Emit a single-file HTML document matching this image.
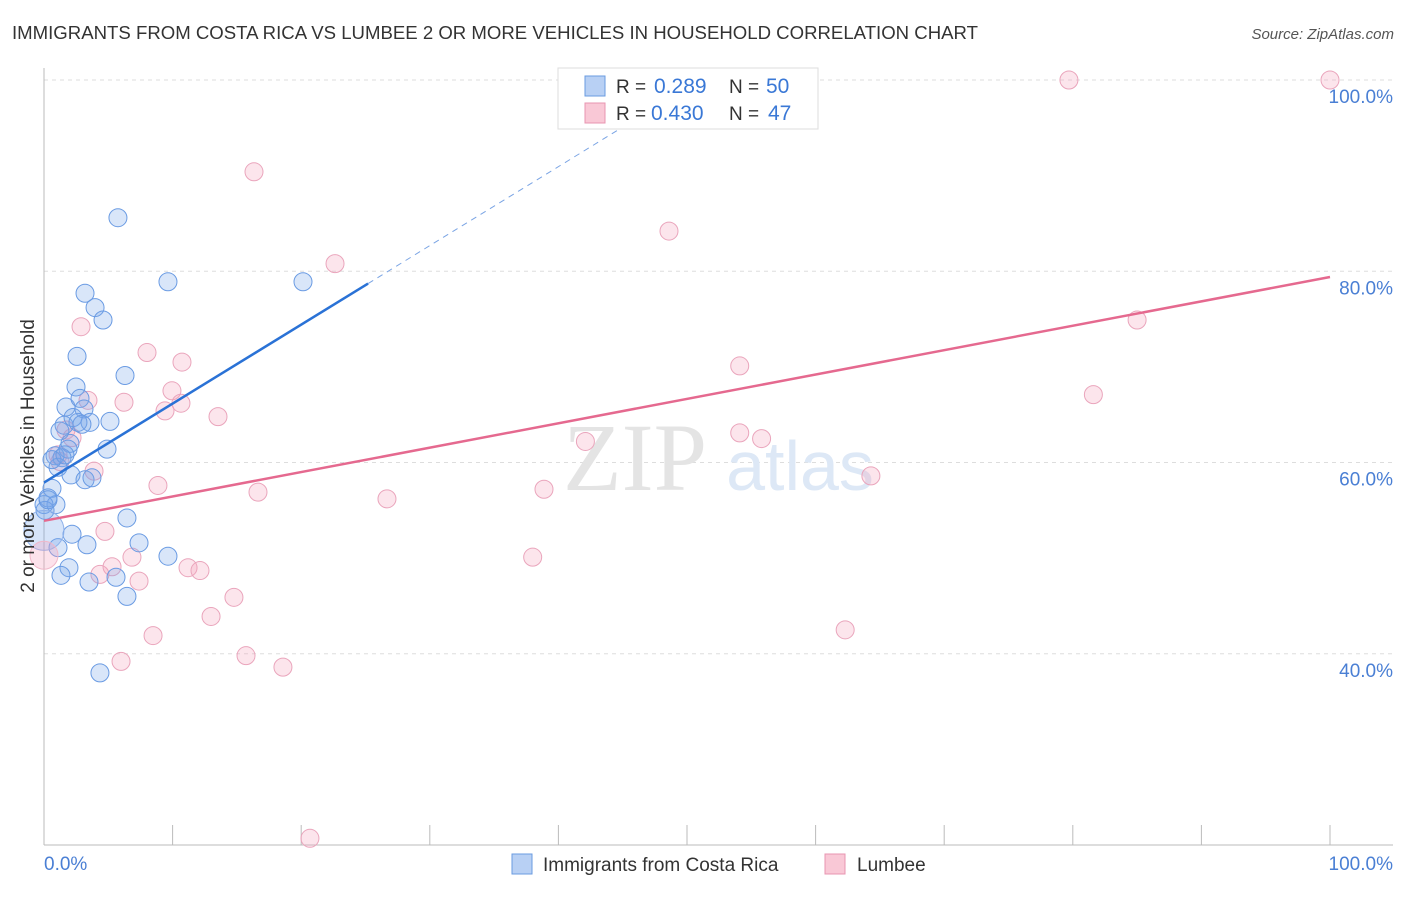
<!DOCTYPE html>
<html><head><meta charset="utf-8"><style>
body{margin:0;background:#fff;font-family:"Liberation Sans",sans-serif;}
</style></head><body>
<svg id="c" width="1406" height="892" viewBox="0 0 1406 892" xmlns="http://www.w3.org/2000/svg">
<text x="12" y="39" font-size="18.6" fill="#333">IMMIGRANTS FROM COSTA RICA VS LUMBEE 2 OR MORE VEHICLES IN HOUSEHOLD CORRELATION CHART</text>
<text x="1394" y="39" font-size="15" fill="#555" font-style="italic" text-anchor="end">Source: ZipAtlas.com</text>
<g id="grid"></g>
<text x="635" y="490" font-size="96" fill="#e4e4e4" font-family="Liberation Serif,serif" text-anchor="middle">ZIP</text>
<text x="800" y="490" font-size="70" fill="#dde8f6" text-anchor="middle">atlas</text>
<line x1="44" y1="68" x2="44" y2="845" stroke="#bbb"/>
<line x1="44" y1="845" x2="1393" y2="845" stroke="#bbb"/>
<g id="xt"></g>
<g id="pts"></g>
<g id="trend"></g>
<g id="yl"></g>
<text x="44" y="870" font-size="19" fill="#4a7fd4">0.0%</text>
<text x="1393" y="870" font-size="19" fill="#4a7fd4" text-anchor="end">100.0%</text>
<text transform="translate(34,456) rotate(-90)" font-size="19" fill="#333" text-anchor="middle">2 or more Vehicles in Household</text>
<g>
<rect x="558" y="68" width="260" height="61" fill="#fff" stroke="#ddd"/>
<rect x="585" y="76" width="20" height="20" fill="#b8d0f4" stroke="#6a9be0"/>
<rect x="585" y="103" width="20" height="20" fill="#f9c8d6" stroke="#e895b0"/>
<text x="616" y="93" font-size="19" fill="#333">R =</text><text x="654" y="93" font-size="21" fill="#3a78d6">0.289</text>
<text x="729" y="93" font-size="19" fill="#333">N =</text><text x="766" y="93" font-size="21" fill="#3a78d6">50</text>
<text x="616" y="120" font-size="19" fill="#333">R =</text><text x="651" y="120" font-size="21" fill="#3a78d6">0.430</text>
<text x="729" y="120" font-size="19" fill="#333">N =</text><text x="768" y="120" font-size="21" fill="#3a78d6">47</text>
</g>
<g>
<rect x="512" y="854" width="20" height="20" fill="#b8d0f4" stroke="#6a9be0"/>
<text x="543" y="871" font-size="19" fill="#333">Immigrants from Costa Rica</text>
<rect x="825" y="854" width="20" height="20" fill="#f9c8d6" stroke="#e895b0"/>
<text x="857" y="871" font-size="19" fill="#333">Lumbee</text>
</g>
</svg>
<script>
const blueX=[5.75,9.64,20.14,3.19,3.97,4.59,2.57,6.30,2.49,1.71,2.80,3.11,5.13,1.56,3.58,2.64,2.26,1.24,2.02,4.90,1.87,0.86,1.40,1.09,2.10,3.19,3.73,0.62,0.31,0.93,0,0.08,6.45,2.18,3.34,7.39,9.64,1.09,1.94,1.32,3.50,5.60,6.45,4.35,0.62,2.95,0.31,1.63];
const blueY=[85.6,78.9,78.9,77.7,76.2,74.9,71.1,69.1,67.9,65.8,66.7,65.6,64.3,63.9,64.2,64.2,64.7,63.3,62.0,61.4,61.4,60.7,60.5,59.5,58.7,58.2,58.4,57.3,56.3,55.6,55.6,55.0,54.2,52.5,51.4,51.6,50.2,51.1,49.0,48.2,47.5,48.0,46.0,38.0,60.3,64.0,56.1,60.8];
const pinkX=[79.7,100,16.33,48.6,22.63,2.88,8.01,10.73,54.1,85.0,81.6,9.95,6.22,3.42,10.65,9.41,13.53,54.1,55.8,42.1,2.18,1.09,3.89,1.71,8.86,16.64,26.67,38.88,64.3,4.74,6.84,38.0,11.2,12.13,7.39,4.35,5.29,14.77,12.99,8.48,62.3,15.71,5.99,18.58,20.68,1.24];
const pinkY=[100,100,90.4,84.2,80.8,74.2,71.5,70.5,70.1,74.9,67.1,67.5,66.3,66.5,66.2,65.4,64.8,63.1,62.5,62.2,62.6,60.8,59.1,63.4,57.6,56.9,56.2,57.2,58.6,52.8,50.1,50.1,49.0,48.7,47.6,48.3,49.1,45.9,43.9,41.9,42.5,39.8,39.2,38.6,20.7,60.1];
const bigBlue=[0,52.9], bigPink=[0,50.3];
const blueTrend=[57.9,0.826], pinkTrend=[53.9,0.255];
const yTicks=[40,60,80,100];
const yTickLabels=["40.0%","60.0%","80.0%","100.0%"];
const xTicks=[0,10,20,30,40,50,60,70,80,90,100];
const sx=v=>44+v*12.86, sy=v=>845-(v-20)*9.5625;
const NS="http://www.w3.org/2000/svg";
function mk(t,a,p){const e=document.createElementNS(NS,t);for(const k in a)e.setAttribute(k,a[k]);p.appendChild(e);return e;}
const grid=document.getElementById('grid'),yl=document.getElementById('yl'),xt=document.getElementById('xt'),pts=document.getElementById('pts'),tr=document.getElementById('trend');
yTicks.forEach((v,i)=>{const l=mk('line',{x1:44,x2:1393,y1:sy(v),y2:sy(v),stroke:'#ddd','stroke-dasharray':'4,4'},grid);


const t=mk('text',{x:1393,y:sy(v)+23,'font-size':19,fill:'#4a7fd4','text-anchor':'end'},yl);t.textContent=yTickLabels[i];

});
xTicks.forEach(v=>{const l=mk('line',{x1:sx(v),x2:sx(v),y1:825,y2:845,stroke:'#bbb'},xt);

});
function dot(x,y,r,f,s){const c=mk('circle',{cx:sx(x),cy:sy(y),r:r,fill:f,stroke:s,'stroke-width':1},pts);return c;}
pinkX.forEach((x,i)=>{const c=dot(x,pinkY[i],9,'rgba(244,160,188,0.28)','#eaa5bc');

});
blueX.forEach((x,i)=>{const c=dot(x,blueY[i],9,'rgba(120,165,235,0.28)','#6a9be3');

});
let c1=dot(bigBlue[0],bigBlue[1],20,'rgba(120,165,235,0.3)','#8fb2ea');


let c2=dot(bigPink[0],bigPink[1],14,'rgba(244,160,188,0.3)','#f0b8ca');


const bl=x=>blueTrend[0]+blueTrend[1]*x, pl=x=>pinkTrend[0]+pinkTrend[1]*x;
let a=mk('line',{x1:sx(0),y1:sy(bl(0)),x2:sx(25.2),y2:sy(bl(25.2)),stroke:'#2a72d6','stroke-width':2.5},tr);


let b=mk('line',{x1:sx(25.2),y1:sy(bl(25.2)),x2:sx(45.5),y2:sy(bl(45.5)),stroke:'#7aa4e4','stroke-width':1,'stroke-dasharray':'6,5'},tr);


let p=mk('line',{x1:sx(0),y1:sy(pl(0)),x2:sx(100),y2:sy(pl(100)),stroke:'#e5698f','stroke-width':2.5},tr);


</script>
</body></html>
